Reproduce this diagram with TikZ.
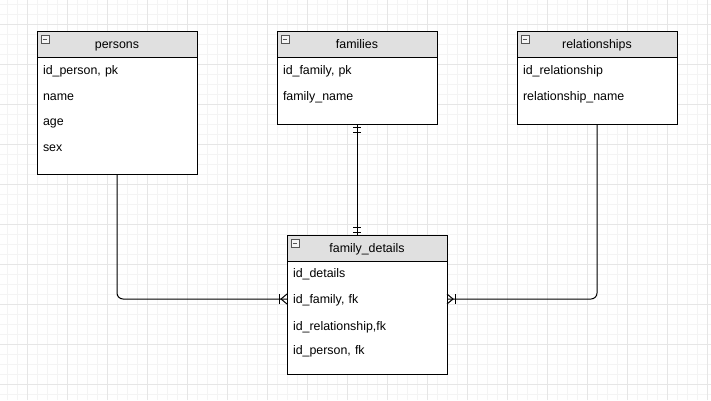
\documentclass[tikz,border=0pt]{standalone}
\usepackage{fontspec}
\setmainfont{Liberation Sans}
\usepackage{tikz}
\usetikzlibrary{calc}
\usetikzlibrary{positioning}
\definecolor{gridMajor}{HTML}{E6E6E6}
\definecolor{gridMinor}{HTML}{F4F4F4}
\definecolor{headFill}{HTML}{E0E0E0}
\definecolor{iconGray}{HTML}{555555}

\begin{document}
\begin{tikzpicture}[x=1pt, y=-1pt, font=\fontsize{12.4}{14}\selectfont]
			\tikzstyle{table}=[rectangle, draw, line width=1pt, minimum width=160pt, inner sep=0pt, outer sep=0pt]
			\tikzstyle{head}=[table, fill=headFill, minimum height=26pt, text height=11pt, text depth=2pt]
			\tikzstyle{row}=[rectangle, anchor=west, minimum width=160pt, inner xsep=6pt, inner ysep=0pt, outer sep=0pt, text width=148pt, text height=11pt, text depth=2pt]
			\tikzstyle{icon}=[rectangle, draw=iconGray, fill=gray!8, line width=0.8pt, minimum size=8pt, inner sep=0pt]
			\tikzstyle{link}=[draw, line width=1pt, rounded corners=6pt]
			\tikzstyle{cardMark}=[draw, line width=1pt]
			\useasboundingbox (0,0) rectangle (711,400);
			\fill[white] (0,0) rectangle (711,400);
			% grid
			\foreach \gx in {7,17,...,707} \draw[gridMinor] (\gx,0) -- (\gx,400);
			\foreach \gy in {4,14,...,394} \draw[gridMinor] (0,\gy) -- (711,\gy);
			\foreach \gx in {27,67,...,707} \draw[gridMajor] (\gx,0) -- (\gx,400);
			\foreach \gy in {24,64,...,384} \draw[gridMajor] (0,\gy) -- (711,\gy);

			% persons
			\node[table, fill=white, minimum height=143pt] at (117, 102.5) (persons) {};
			\node[head] at (117, 44) (personsHead) {persons};
			\node[icon] at (45, 39) (personsIcon) {};
			\draw[iconGray, line width=0.9pt] ($(personsIcon.west)+(2,0)$) -- ($(personsIcon.east)+(-2,0)$);
			\node[row] at (37, 70) (personsId) {id\_person, pk};
			\node[row] at (37, 96) (personsName) {name};
			\node[row] at (37, 121) (personsAge) {age};
			\node[row] at (37, 147) (personsSex) {sex};

			% families
			\node[table, fill=white, minimum height=93pt] at (357, 77.5) (families) {};
			\node[head] at (357, 44) (familiesHead) {families};
			\node[icon] at (285, 39) (familiesIcon) {};
			\draw[iconGray, line width=0.9pt] ($(familiesIcon.west)+(2,0)$) -- ($(familiesIcon.east)+(-2,0)$);
			\node[row] at (277, 70) (familiesId) {id\_family, pk};
			\node[row] at (277, 96) (familiesName) {family\_name};

			% relationships
			\node[table, fill=white, minimum height=93pt] at (597, 77.5) (relationships) {};
			\node[head] at (597, 44) (relationshipsHead) {relationships};
			\node[icon] at (525, 39) (relationshipsIcon) {};
			\draw[iconGray, line width=0.9pt] ($(relationshipsIcon.west)+(2,0)$) -- ($(relationshipsIcon.east)+(-2,0)$);
			\node[row] at (517, 70) (relationshipsId) {id\_relationship};
			\node[row] at (517, 96) (relationshipsName) {relationship\_name};

			% family_details
			\node[table, fill=white, minimum height=139pt] at (367, 304.5) (details) {};
			\node[head] at (367, 248) (detailsHead) {family\_details};
			\node[icon] at (295, 243) (detailsIcon) {};
			\draw[iconGray, line width=0.9pt] ($(detailsIcon.west)+(2,0)$) -- ($(detailsIcon.east)+(-2,0)$);
			\node[row] at (287, 273) (detailsId) {id\_details};
			\node[row] at (287, 299) (detailsFamily) {id\_family, fk};
			\node[row] at (287, 325.5) (detailsRelationship) {id\_relationship,fk};
			\node[row] at (287, 349.5) (detailsPerson) {id\_person, fk};

			% links
			\coordinate (familiesFoot) at (families.south);
			\coordinate (detailsTop) at (detailsHead.north -| familiesFoot);
			\path[link] (familiesFoot) -- (detailsTop);
			\path[cardMark] ($(familiesFoot)+(-4,3)$) -- ++(8,0);
			\path[cardMark] ($(familiesFoot)+(-4,8)$) -- ++(8,0);
			\path[cardMark] ($(detailsTop)+(-4,-3)$) -- ++(8,0);
			\path[cardMark] ($(detailsTop)+(-4,-8)$) -- ++(8,0);

			\path[link] (persons.south) |- (detailsFamily.west);
			\path[cardMark] ($(detailsFamily.west)+(-8,-5)$) -- ++(0,10);
			\path[cardMark] ($(detailsFamily.west)+(0,-5)$) -- ++(-6,5) -- ++(6,5);

			\coordinate (detailsFamilyEast) at (detailsFamily.west -| details.east);
			\path[link] (relationships.south) |- (detailsFamilyEast);
			\path[cardMark] ($(detailsFamilyEast)+(8,-5)$) -- ++(0,10);
			\path[cardMark] ($(detailsFamilyEast)+(0,-5)$) -- ++(6,5) -- ++(-6,5);
		\end{tikzpicture}
\end{document}
